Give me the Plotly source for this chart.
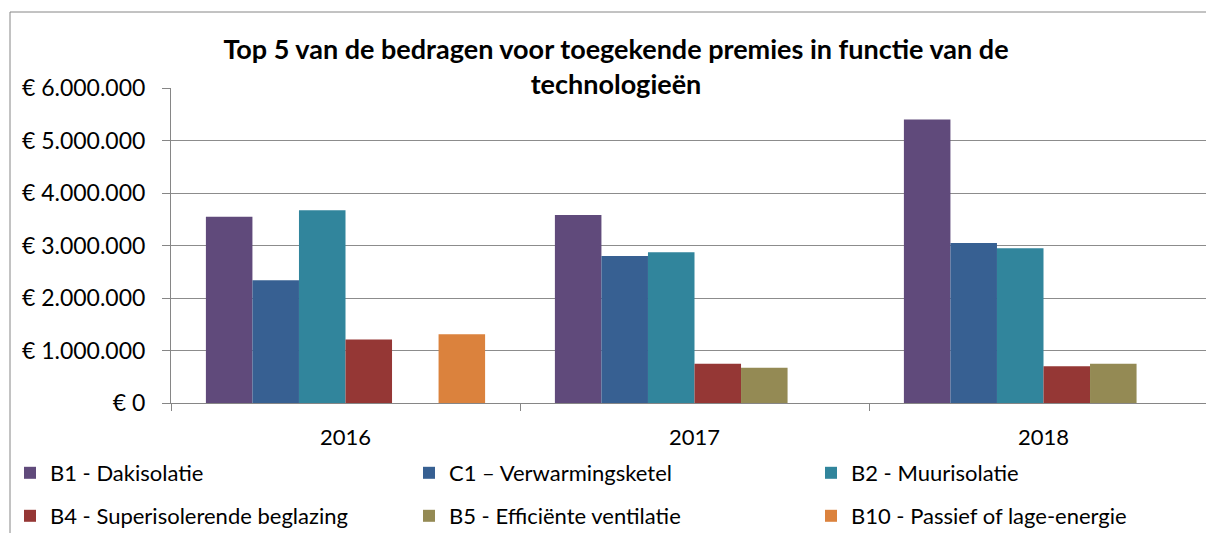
import plotly.graph_objects as go

years = ["2016", "2017", "2018"]
series_names = [
    "B1 - Dakisolatie",
    "C1 \u2013 Verwarmingsketel",
    "B2 - Muurisolatie",
    "B4 - Superisolerende beglazing",
    "B5 - Effici\u00ebnte ventilatie",
    "B10 - Passief of lage-energie",
]
b1 = [3550000, 3580000, 5400000]
c1 = [2340000, 2800000, 3050000]
b2 = [3670000, 2870000, 2950000]
b4 = [1210000, 750000, 700000]
b5 = [None, 670000, 750000]
b10 = [1310000, None, None]
colors = ["#604A7B", "#376092", "#31859C", "#953735", "#948A54", "#DB823D"]
tick_vals = [0, 1000000, 2000000, 3000000, 4000000, 5000000, 6000000]
tick_text = ["\u20ac " + f"{v:,d}".replace(",", ".") for v in tick_vals]

W, H = 1206, 533
L, T, B = 171, 88, 130
FONT = "Lato"
FS = 22

plot_w = W - L
plot_h = H - B - T
cat_px = 349.0
xr = [-0.5, -0.5 + plot_w / cat_px]

def px_x(p):
    return (p - L) / plot_w

def px_y(p):
    return (H - B - p) / plot_h

legend_cols = [10, 409, 811]
legend_rows = [473, 516]

fig = go.Figure()
values = [b1, c1, b2, b4, b5, b10]
legend_layout = {}
for i, (name, vals, col) in enumerate(zip(series_names, values, colors)):
    key = "legend" if i == 0 else f"legend{i + 1}"
    fig.add_trace(go.Bar(
        x=years, y=vals, name=name,
        marker=dict(color=col, line=dict(width=0)),
        legend=key, showlegend=True,
    ))
    legend_layout[key] = dict(
        orientation="h", xref="paper", yref="paper",
        x=px_x(legend_cols[i % 3]), xanchor="left",
        y=px_y(legend_rows[i // 3]), yanchor="middle",
        font=dict(size=FS), bgcolor="rgba(0,0,0,0)",
    )

fig.update_layout(
    width=W, height=H,
    showlegend=True,
    margin=dict(l=L, r=0, t=T, b=B, autoexpand=False),
    paper_bgcolor="white", plot_bgcolor="white",
    font=dict(family=FONT, size=FS, color="black"),
    barmode="group", bargap=0.2, bargroupgap=0,
    title=dict(
        text="<b>Top 5 van de bedragen voor toegekende premies in functie van de<br>technologie\u00ebn</b>",
        x=616 / W, xanchor="center", xref="container",
        y=1 - 59 / H, yanchor="top", yref="container",
        font=dict(family=FONT, size=27, color="black"),
    ),
    xaxis=dict(
        range=xr, showgrid=False, showline=True, linecolor="#868686", linewidth=1,
        ticks="outside", ticklen=7, tickcolor="#868686", tickson="boundaries",
        tickfont=dict(size=FS), zeroline=False, automargin=False,
        ticklabelstandoff=15,
    ),
    yaxis=dict(
        range=[0, 6000000], tickvals=tick_vals, ticktext=tick_text,
        showgrid=True, gridcolor="#8C8C8C", gridwidth=1,
        showline=True, linecolor="#868686", linewidth=1,
        ticks="outside", ticklen=8, tickcolor="#868686",
        tickfont=dict(size=23), zeroline=False, automargin=False,
        ticklabelstandoff=12,
    ),
    shapes=[
        dict(type="line", xref="paper", yref="paper",
             x0=px_x(10), x1=px_x(10), y0=px_y(12), y1=px_y(540),
             line=dict(color="#868686", width=1)),
        dict(type="line", xref="paper", yref="paper",
             x0=px_x(10), x1=px_x(1210), y0=px_y(12), y1=px_y(12),
             line=dict(color="#868686", width=1)),
    ],
    **legend_layout,
)

fig.write_html(
    "out.html",
    config={"displayModeBar": False},
    post_script="document.body.style.margin='0';document.body.style.overflow='hidden';",
)
